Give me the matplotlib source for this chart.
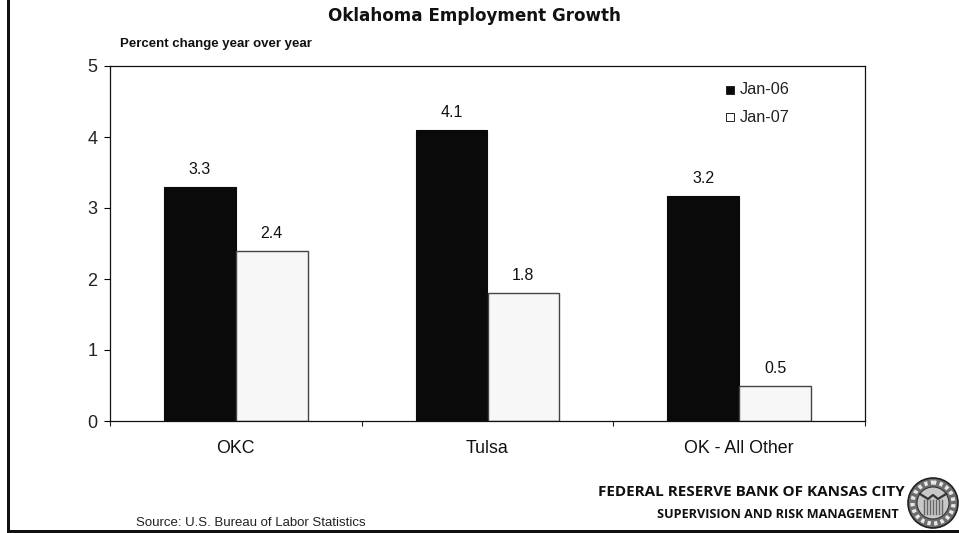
import matplotlib
matplotlib.use("Agg")
import matplotlib.pyplot as plt
from matplotlib.patches import Circle, Rectangle
import numpy as np

categories = ["OKC", "Tulsa", "OK - All Other"]
jan_06 = [3.3, 4.1, 3.17]
jan_07 = [2.4, 1.8, 0.49]
labels_06 = ["3.3", "4.1", "3.2"]
labels_07 = ["2.4", "1.8", "0.5"]
y_ticks = [0, 1, 2, 3, 4, 5]

W, H = 959, 533
BAR_WIDTH = 0.285

plt.rcParams["font.family"] = ["Liberation Sans", "DejaVu Sans"]

fig = plt.figure(figsize=(W / 100, H / 100), dpi=100)
ax = fig.add_axes([110 / W, 1 - 421 / H, 755 / W, 355 / H])

x = np.arange(len(categories))
ax.bar(x - BAR_WIDTH / 2, jan_06, BAR_WIDTH, color="#0a0a0a", edgecolor="#0a0a0a", linewidth=0.8)
ax.bar(x + BAR_WIDTH / 2, jan_07, BAR_WIDTH, color="#f7f7f7", edgecolor="#444444", linewidth=1.0)

for xi, v, s in zip(x - BAR_WIDTH / 2, jan_06, labels_06):
    ax.annotate(s, (xi, v), xytext=(0, 10), textcoords="offset pixels", ha="center", va="bottom", fontsize=11.5, color="#111111")
for xi, v, s in zip(x + BAR_WIDTH / 2, jan_07, labels_07):
    ax.annotate(s, (xi, v), xytext=(0, 10), textcoords="offset pixels", ha="center", va="bottom", fontsize=11.5, color="#111111")

ax.set_xlim(-0.5, 2.5)
ax.set_ylim(0, 5)
ax.set_yticks(y_ticks)
ax.set_xticks([-0.5, 0.5, 1.5, 2.5])
ax.set_xticklabels([])
ax.set_xticks(x, minor=True)
ax.set_xticklabels(categories, minor=True)
ax.tick_params(axis="x", which="major", direction="out", length=3.5, width=0.8, color="#222222")
ax.tick_params(axis="x", which="minor", length=0, pad=14, labelsize=12.8, labelcolor="#111111")
ax.tick_params(axis="y", direction="out", length=4, width=0.8, pad=5, labelsize=13, labelcolor="#222222")
for spine in ax.spines.values():
    spine.set_linewidth(0.9)
    spine.set_color("#111111")

# legend markers and text
ax_fig = fig.transFigure
for py, name, face in [(90, "Jan-06", "#0a0a0a"), (117, "Jan-07", "#ffffff")]:
    fig.add_artist(Rectangle((726 / W, 1 - (py + 4) / H), 8 / W, 8 / H, transform=ax_fig,
                             facecolor=face, edgecolor="#222222", linewidth=0.7))
    fig.text(740 / W, 1 - py / H, name, ha="left", va="center", fontsize=11.7, color="#222222")

fig.text(474 / W, 1 - 16 / H, "Oklahoma Employment Growth", ha="center", va="center",
         fontsize=12.1, fontweight="bold", family=["DejaVu Sans"], color="#111111")
fig.text(120 / W, 1 - 43.5 / H, "Percent change year over year", ha="left", va="center",
         fontsize=9.5, fontweight="bold", color="#111111")
fig.text(136 / W, 1 - 522.5 / H, "Source: U.S. Bureau of Labor Statistics", ha="left", va="center",
         fontsize=9.5, color="#222222")
fig.text(905 / W, 1 - 492 / H, "FEDERAL RESERVE BANK OF KANSAS CITY", ha="right", va="center",
         fontsize=11, fontweight="bold", family=["Open Sans"], color="#111111")
fig.text(899 / W, 1 - 515 / H, "SUPERVISION AND RISK MANAGEMENT", ha="right", va="center",
         fontsize=9.1, fontweight="bold", family=["Open Sans"], color="#111111")

# page frame: left and bottom rules only
fig.add_artist(Rectangle((7 / W, 1 - 531.5 / H), 3 / W, 531.5 / H, transform=ax_fig, facecolor="#111111", edgecolor="none"))
fig.add_artist(Rectangle((7 / W, 1 - 532.5 / H), 952 / W, 3 / H, transform=ax_fig, facecolor="#111111", edgecolor="none"))

# bank seal, drawn in pixel coordinates on a full-figure overlay
seal = fig.add_axes([0, 0, 1, 1], facecolor="none")
seal.set_xlim(0, W)
seal.set_ylim(H, 0)
seal.axis("off")
cx, cy = 933, 503
seal.add_patch(Circle((cx, cy), 25, facecolor="#6e6e6e", edgecolor="#222222", linewidth=1.2))
seal.add_patch(Circle((cx, cy), 20.5, facecolor="none", edgecolor="#e8e8e8", linewidth=3, linestyle=(0, (0.8, 0.8))))
seal.add_patch(Circle((cx, cy), 16, facecolor="#c8c8c8", edgecolor="#333333", linewidth=0.8))
for dx in range(-9, 10, 3):
    seal.plot([cx + dx, cx + dx], [cy - 3, cy + 11], color="#666666", linewidth=1.0)
seal.plot([cx - 13, cx - 5, cx, cx + 5, cx + 13], [cy - 9, cy - 4, cy - 8, cy - 4, cy - 9], color="#333333", linewidth=1.6)

fig.savefig("out.png", dpi=100)
